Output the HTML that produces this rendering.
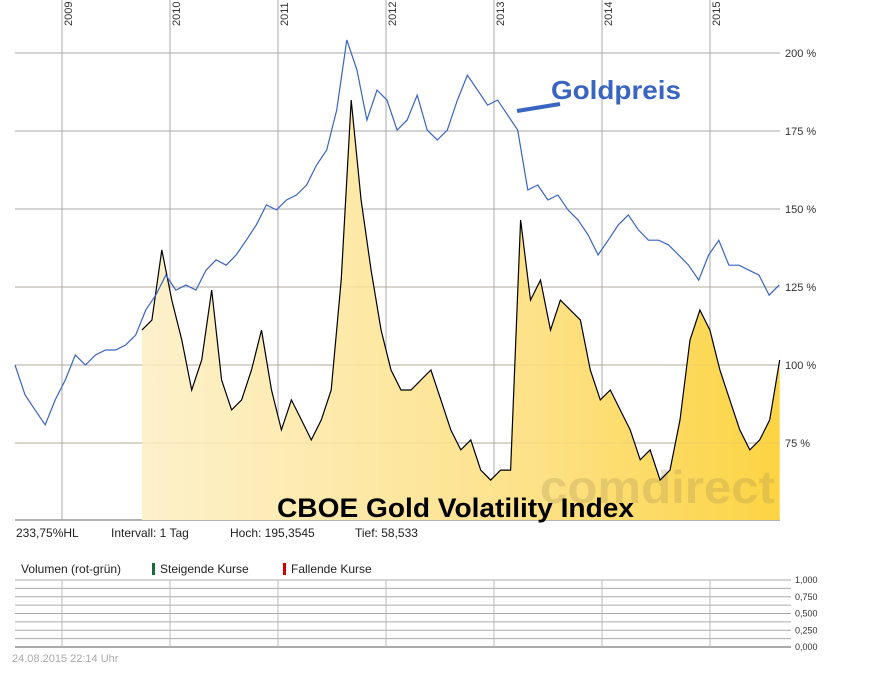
<!DOCTYPE html>
<html><head><meta charset="utf-8"><style>
body{margin:0;background:#fff;font-family:"Liberation Sans",sans-serif}
svg text{font-family:"Liberation Sans",sans-serif}
</style></head><body>
<svg width="895" height="669" xmlns="http://www.w3.org/2000/svg">
<defs><linearGradient id="fillg" x1="0" x2="1" y1="0" y2="0">
<stop offset="0" stop-color="#fdf1cc"/><stop offset="0.6" stop-color="#fde28a"/><stop offset="1" stop-color="#fcd442"/></linearGradient></defs>
<g id="grid"></g>
<g id="marks"></g>
<g id="labels"></g>
<text x="277" y="517" textLength="357" lengthAdjust="spacingAndGlyphs" font-size="27" font-weight="bold" fill="#000">CBOE Gold Volatility Index</text>
<text x="551" y="99" textLength="130" lengthAdjust="spacingAndGlyphs" font-size="26" font-weight="bold" fill="#3a64c2">Goldpreis</text>
<line x1="517" y1="111" x2="560" y2="104" stroke="#3a64c2" stroke-width="4"/>
<text x="16" y="537" font-size="12" fill="#222">233,75%HL</text>
<text x="111" y="537" font-size="12" fill="#222">Intervall: 1 Tag</text>
<text x="230" y="537" font-size="12" fill="#222">Hoch: 195,3545</text>
<text x="355" y="537" font-size="12" fill="#222">Tief:  58,533</text>
<text x="21" y="573" font-size="12" fill="#222">Volumen (rot-grün)</text>
<rect x="152" y="563" width="3" height="12" fill="#1a6b3a"/>
<text x="160" y="573" font-size="12" fill="#222">Steigende Kurse</text>
<rect x="283" y="563" width="3" height="12" fill="#c00"/>
<text x="291" y="573" font-size="12" fill="#222">Fallende Kurse</text>
<text x="12" y="662" font-size="11" fill="#aaa">24.08.2015 22:14 Uhr</text>
</svg>
<script>
const yearTicks=["2009","2010","2011","2012","2013","2014","2015"];
const pctTicks=[200,175,150,125,100,75];
const volTicks=["1,000","0,750","0,500","0,250","0,000"];
const goldValues=[100,90.4,85.6,80.8,88.8,95.2,103.2,100,103.2,104.8,104.8,106.4,109.6,117.6,122.4,128.8,124,125.6,124,130.4,133.7,132,135.3,140,144.9,151.3,149.7,152.9,154.5,157.7,164.1,168.9,181.7,204.2,194.6,178.5,188.1,184.9,175.3,178.5,186.5,175.3,172.1,175.3,184.9,192.9,188.1,183.3,184.9,180.1,175.3,156.1,157.7,152.9,154.5,149.7,146.5,141.7,135.3,140,144.9,148.1,143.3,140,140,138.5,135.3,132,127.2,135.3,140,132,132,130.4,128.8,122.4,125.6];
const vixValues=[111.2,114.4,136.9,120.8,108,92,101.6,124,95.2,85.6,88.8,98.4,111.2,92,79.2,88.8,82.4,76,82.4,92,127.2,184.9,152.9,130.4,111.2,98.4,92,92,95.2,98.4,88.8,79.2,72.8,76,66.3,63.1,66.3,66.3,146.5,120.8,127.2,111.2,120.8,117.6,114.4,98.4,88.8,92,85.6,79.2,69.6,72.8,63.1,66.3,82.4,108,117.6,111.2,98.4,88.8,79.2,72.8,76,82.4,101.6];
const goldStart=2008.565, goldEnd=2015.64, vixStart=2009.74, vixEnd=2015.645;
const NS="http://www.w3.org/2000/svg";
const X0=15,X1=780,Y0=0,Y1=520;
const xYear=yr=>62+(yr-2009)*108;
const yPct=v=>365-(v-100)*3.12;
function mk(t,a,p){const e=document.createElementNS(NS,t);for(const k in a)e.setAttribute(k,a[k]);(p||document.getElementById('marks')).appendChild(e);return e;}
const grid=document.getElementById('grid'),labels=document.getElementById('labels');
pctTicks.forEach(p=>{const l=mk('line',{x1:X0,x2:X1,y1:yPct(p),y2:yPct(p),stroke:'#aaa','stroke-width':1},grid);


const t=mk('text',{x:785,y:yPct(p)+4,'font-size':11,fill:'#333'},labels);t.textContent=p+' %';

});
mk('line',{x1:X0,x2:X1,y1:Y1,y2:Y1,stroke:'#999','stroke-width':1.5},grid);
yearTicks.forEach(y=>{const x=xYear(+y);const l=mk('line',{x1:x,x2:x,y1:0,y2:Y1,stroke:'#aaa'},grid);


const t=mk('text',{x:0,y:0,'font-size':11,fill:'#333',transform:`translate(${x+10},26) rotate(-90)`},labels);t.textContent=y;

});
const vx=i=>xYear(vixStart+(vixEnd-vixStart)*i/(vixValues.length-1));
let pts=vixValues.map((v,i)=>vx(i).toFixed(1)+','+yPct(v).toFixed(1));
const area=mk('polygon',{points:vx(0)+','+Y1+' '+pts.join(' ')+' '+vx(vixValues.length-1)+','+Y1,fill:'url(#fillg)'});


pctTicks.forEach(p=>{if(p<=125)mk('line',{x1:X0,x2:X1,y1:yPct(p),y2:yPct(p),stroke:'#c8b070','stroke-width':0.6,opacity:0.5});});
const wm=mk('text',{x:540,y:503,'font-size':46,'font-weight':'bold',fill:'#a08a50',opacity:0.25,textLength:235,lengthAdjust:'spacingAndGlyphs'});wm.textContent='comdirect';


const vl=mk('polyline',{points:pts.join(' '),fill:'none',stroke:'#000','stroke-width':1.2});


const gx=i=>xYear(goldStart+(goldEnd-goldStart)*i/(goldValues.length-1));
const gl=mk('polyline',{points:goldValues.map((v,i)=>gx(i).toFixed(1)+','+yPct(v).toFixed(1)).join(' '),fill:'none',stroke:'#3a64c2','stroke-width':1.2});


const VT=580,VB=647;
for(let i=0;i<=8;i++){const y=VT+(VB-VT)*i/8;mk('line',{x1:15,x2:791,y1:y,y2:y,stroke:'#aaa','stroke-width':i==8?2:1},grid);}
yearTicks.forEach(y=>{const x=xYear(+y);mk('line',{x1:x,x2:x,y1:VT,y2:VB,stroke:'#bbb'},grid);});
volTicks.forEach((s,i)=>{const t=mk('text',{x:795,y:VT+(VB-VT)*i/4+3,'font-size':9,fill:'#333'},labels);t.textContent=s;

});
</script>
</body></html>
